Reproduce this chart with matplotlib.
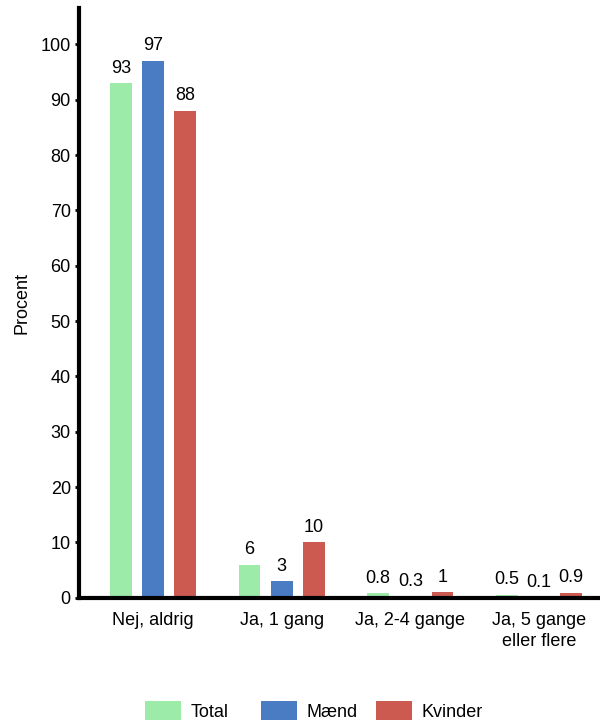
import matplotlib
matplotlib.use("Agg")
import matplotlib.pyplot as plt
import numpy as np

matplotlib.rcParams["font.family"] = ["Liberation Sans", "DejaVu Sans"]

categories = ["Nej, aldrig", "Ja, 1 gang", "Ja, 2-4 gange", "Ja, 5 gange\neller flere"]
series_names = ["Total", "Mænd", "Kvinder"]
total = [93, 6, 0.8, 0.5]
maend = [97, 3, 0.3, 0.1]
kvinder = [88, 10, 1, 0.9]
labels_total = ["93", "6", "0.8", "0.5"]
labels_maend = ["97", "3", "0.3", "0.1"]
labels_kvinder = ["88", "10", "1", "0.9"]
colors = ["#9DEBA8", "#4A7CC4", "#CC5A50"]

FS = 13

fig = plt.figure(figsize=(6, 7.22), dpi=100)
ax = fig.add_axes([0.132, 0.172, 0.866, 0.817])

x = np.arange(len(categories))
width = 0.17
offset = 0.25
handles = []
for i, (vals, labs) in enumerate(zip([total, maend, kvinder],
                                     [labels_total, labels_maend, labels_kvinder])):
    bars = ax.bar(x + (i - 1) * offset, vals, width, color=colors[i], label=series_names[i])
    handles.append(bars)
    for b, lab in zip(bars, labs):
        ax.text(b.get_x() + b.get_width() / 2, b.get_height() + 1.2, lab,
                ha="center", va="bottom", fontsize=FS)

ax.set_xlim(-0.574, 3.465)
ax.set_ylim(0, 106.6)
ax.set_yticks(range(0, 101, 10))
ax.set_xticks(x)
ax.set_xticklabels(categories, fontsize=FS, linespacing=1.3)
ax.tick_params(axis="y", labelsize=FS, direction="out", length=3, width=2, pad=3)
ax.tick_params(axis="x", length=0, pad=10)
ax.set_ylabel("Procent", fontsize=FS, labelpad=7)

for side in ["top", "right"]:
    ax.spines[side].set_visible(False)
ax.spines["left"].set_linewidth(3)
ax.spines["bottom"].set_linewidth(3)

# one legend per series so the columns sit at fixed positions
legend_x = [145 / 600, 261 / 600, 376 / 600]
for h, name, lx in zip(handles, series_names, legend_x):
    fig.legend(handles=[h], labels=[name], loc="center left",
               bbox_to_anchor=(lx, 1 - 711 / 722), frameon=False, fontsize=FS,
               borderpad=0, borderaxespad=0,
               handlelength=2.0, handleheight=1.2, handletextpad=0.5)

fig.savefig("out.png", dpi=100)
